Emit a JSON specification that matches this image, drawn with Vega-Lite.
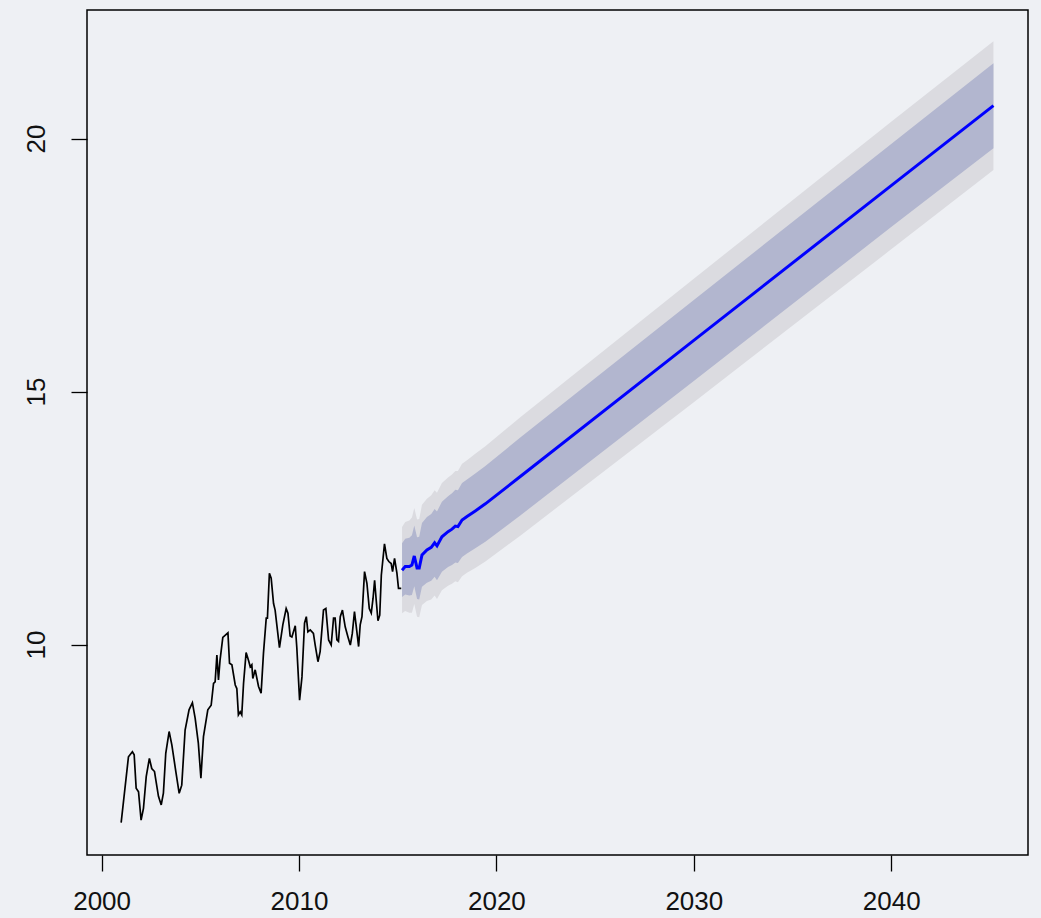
{
  "$schema": "https://vega.github.io/schema/vega-lite/v6.json",
  "autosize": {"type": "none"},
  "width": 941,
  "height": 845,
  "padding": {"left": 87, "top": 10, "right": 13, "bottom": 63},
  "background": "#eef0f4",
  "config": {
    "view": {"stroke": "#000000", "strokeWidth": 1.5, "fill": "#eef0f4"},
    "axis": {
      "domain": false,
      "grid": false,
      "ticks": true,
      "tickColor": "#000000",
      "tickWidth": 1.3,
      "tickSize": 16,
      "labelFont": "Liberation Sans",
      "labelFontSize": 26,
      "labelColor": "#111111",
      "title": null
    }
  },
  "datasets": {
    "hist": [
      {"t": 2000.99, "v": 6.48}, {"t": 2001.36, "v": 7.78}, {"t": 2001.56, "v": 7.88}, {"t": 2001.65, "v": 7.82},
      {"t": 2001.75, "v": 7.16}, {"t": 2001.87, "v": 7.09}, {"t": 2002.00, "v": 6.53}, {"t": 2002.12, "v": 6.76},
      {"t": 2002.26, "v": 7.39}, {"t": 2002.42, "v": 7.75}, {"t": 2002.54, "v": 7.55}, {"t": 2002.68, "v": 7.49},
      {"t": 2002.76, "v": 7.29}, {"t": 2002.88, "v": 7.00}, {"t": 2003.02, "v": 6.83}, {"t": 2003.13, "v": 7.06},
      {"t": 2003.25, "v": 7.85}, {"t": 2003.42, "v": 8.28}, {"t": 2003.56, "v": 8.01}, {"t": 2003.76, "v": 7.49},
      {"t": 2003.93, "v": 7.06}, {"t": 2004.06, "v": 7.22}, {"t": 2004.23, "v": 8.31}, {"t": 2004.43, "v": 8.71},
      {"t": 2004.60, "v": 8.85}, {"t": 2004.74, "v": 8.54}, {"t": 2004.90, "v": 8.05}, {"t": 2005.03, "v": 7.36},
      {"t": 2005.16, "v": 8.18}, {"t": 2005.38, "v": 8.71}, {"t": 2005.55, "v": 8.80}, {"t": 2005.67, "v": 9.23},
      {"t": 2005.75, "v": 9.26}, {"t": 2005.84, "v": 9.79}, {"t": 2005.92, "v": 9.30}, {"t": 2006.00, "v": 9.69},
      {"t": 2006.14, "v": 10.14}, {"t": 2006.40, "v": 10.23}, {"t": 2006.48, "v": 9.63}, {"t": 2006.60, "v": 9.60},
      {"t": 2006.77, "v": 9.20}, {"t": 2006.85, "v": 9.13}, {"t": 2006.93, "v": 8.61}, {"t": 2007.02, "v": 8.67},
      {"t": 2007.10, "v": 8.61}, {"t": 2007.19, "v": 9.23}, {"t": 2007.32, "v": 9.84}, {"t": 2007.44, "v": 9.69},
      {"t": 2007.53, "v": 9.56}, {"t": 2007.61, "v": 9.60}, {"t": 2007.66, "v": 9.33}, {"t": 2007.78, "v": 9.50},
      {"t": 2007.95, "v": 9.17}, {"t": 2008.08, "v": 9.04}, {"t": 2008.20, "v": 9.83}, {"t": 2008.34, "v": 10.52},
      {"t": 2008.40, "v": 10.52}, {"t": 2008.50, "v": 11.41}, {"t": 2008.59, "v": 11.31}, {"t": 2008.71, "v": 10.81},
      {"t": 2008.79, "v": 10.68}, {"t": 2009.01, "v": 9.94}, {"t": 2009.18, "v": 10.39}, {"t": 2009.35, "v": 10.71},
      {"t": 2009.44, "v": 10.62}, {"t": 2009.55, "v": 10.17}, {"t": 2009.64, "v": 10.15}, {"t": 2009.81, "v": 10.37},
      {"t": 2009.89, "v": 9.93}, {"t": 2010.03, "v": 8.90}, {"t": 2010.15, "v": 9.36}, {"t": 2010.28, "v": 10.42},
      {"t": 2010.37, "v": 10.55}, {"t": 2010.45, "v": 10.25}, {"t": 2010.57, "v": 10.29}, {"t": 2010.73, "v": 10.22},
      {"t": 2010.82, "v": 9.99}, {"t": 2010.96, "v": 9.66}, {"t": 2011.07, "v": 9.86}, {"t": 2011.24, "v": 10.68},
      {"t": 2011.36, "v": 10.71}, {"t": 2011.50, "v": 10.09}, {"t": 2011.63, "v": 9.99}, {"t": 2011.75, "v": 10.52},
      {"t": 2011.83, "v": 10.52}, {"t": 2011.92, "v": 10.09}, {"t": 2012.00, "v": 10.06}, {"t": 2012.09, "v": 10.55},
      {"t": 2012.20, "v": 10.68}, {"t": 2012.34, "v": 10.35}, {"t": 2012.48, "v": 10.15}, {"t": 2012.60, "v": 9.99},
      {"t": 2012.70, "v": 10.22}, {"t": 2012.81, "v": 10.65}, {"t": 2012.92, "v": 10.29}, {"t": 2013.02, "v": 9.96},
      {"t": 2013.10, "v": 10.39}, {"t": 2013.19, "v": 10.55}, {"t": 2013.32, "v": 11.44}, {"t": 2013.44, "v": 11.21},
      {"t": 2013.56, "v": 10.71}, {"t": 2013.66, "v": 10.62}, {"t": 2013.75, "v": 10.91}, {"t": 2013.83, "v": 11.27},
      {"t": 2013.91, "v": 10.88}, {"t": 2014.00, "v": 10.47}, {"t": 2014.09, "v": 10.58}, {"t": 2014.17, "v": 11.37},
      {"t": 2014.33, "v": 11.99}, {"t": 2014.45, "v": 11.70}, {"t": 2014.55, "v": 11.64}, {"t": 2014.67, "v": 11.60},
      {"t": 2014.74, "v": 11.44}, {"t": 2014.84, "v": 11.70}, {"t": 2014.96, "v": 11.41}, {"t": 2015.04, "v": 11.11},
      {"t": 2015.18, "v": 11.11}
    ],
    "fc": [
      {"t": 2015.22, "m": 11.47, "lo80": 10.94, "hi80": 12.00, "lo95": 10.62, "hi95": 12.32},
      {"t": 2015.38, "m": 11.54, "lo80": 10.99, "hi80": 12.09, "lo95": 10.66, "hi95": 12.42},
      {"t": 2015.59, "m": 11.54, "lo80": 10.97, "hi80": 12.11, "lo95": 10.63, "hi95": 12.45},
      {"t": 2015.72, "m": 11.57, "lo80": 10.98, "hi80": 12.16, "lo95": 10.63, "hi95": 12.51},
      {"t": 2015.84, "m": 11.75, "lo80": 11.15, "hi80": 12.35, "lo95": 10.80, "hi95": 12.70},
      {"t": 2015.98, "m": 11.51, "lo80": 10.90, "hi80": 12.12, "lo95": 10.55, "hi95": 12.47},
      {"t": 2016.09, "m": 11.51, "lo80": 10.89, "hi80": 12.13, "lo95": 10.54, "hi95": 12.48},
      {"t": 2016.23, "m": 11.77, "lo80": 11.14, "hi80": 12.40, "lo95": 10.78, "hi95": 12.76},
      {"t": 2016.48, "m": 11.87, "lo80": 11.22, "hi80": 12.52, "lo95": 10.86, "hi95": 12.88},
      {"t": 2016.70, "m": 11.92, "lo80": 11.26, "hi80": 12.58, "lo95": 10.89, "hi95": 12.95},
      {"t": 2016.87, "m": 12.01, "lo80": 11.34, "hi80": 12.68, "lo95": 10.97, "hi95": 13.05},
      {"t": 2016.99, "m": 11.95, "lo80": 11.27, "hi80": 12.63, "lo95": 10.90, "hi95": 13.00},
      {"t": 2017.24, "m": 12.13, "lo80": 11.44, "hi80": 12.82, "lo95": 11.07, "hi95": 13.19},
      {"t": 2017.55, "m": 12.23, "lo80": 11.53, "hi80": 12.93, "lo95": 11.16, "hi95": 13.30},
      {"t": 2017.75, "m": 12.28, "lo80": 11.57, "hi80": 12.99, "lo95": 11.20, "hi95": 13.36},
      {"t": 2017.92, "m": 12.34, "lo80": 11.62, "hi80": 13.06, "lo95": 11.25, "hi95": 13.43},
      {"t": 2018.05, "m": 12.33, "lo80": 11.61, "hi80": 13.05, "lo95": 11.23, "hi95": 13.43},
      {"t": 2018.26, "m": 12.46, "lo80": 11.73, "hi80": 13.19, "lo95": 11.35, "hi95": 13.57},
      {"t": 2018.51, "m": 12.53, "lo80": 11.80, "hi80": 13.26, "lo95": 11.42, "hi95": 13.64},
      {"t": 2018.93, "m": 12.64, "lo80": 11.90, "hi80": 13.38, "lo95": 11.51, "hi95": 13.77},
      {"t": 2019.44, "m": 12.78, "lo80": 12.03, "hi80": 13.53, "lo95": 11.64, "hi95": 13.92},
      {"t": 2021.21, "m": 13.32, "lo80": 12.55, "hi80": 14.09, "lo95": 12.15, "hi95": 14.49},
      {"t": 2030.00, "m": 16.01, "lo80": 15.21, "hi80": 16.81, "lo95": 14.79, "hi95": 17.23},
      {"t": 2040.00, "m": 19.07, "lo80": 18.25, "hi80": 19.89, "lo95": 17.81, "hi95": 20.33},
      {"t": 2045.18, "m": 20.65, "lo80": 19.81, "hi80": 21.49, "lo95": 19.38, "hi95": 21.92}
    ]
  },
  "layer": [
    {
      "data": {"name": "fc"},
      "mark": {"type": "area", "color": "#dbdbe0", "opacity": 1},
      "encoding": {
        "x": {"field": "t", "type": "quantitative", "scale": {"domain": [1999.26, 2046.93], "nice": false, "zero": false},
              "axis": {"values": [2000, 2010, 2020, 2030, 2040], "format": "d", "labelPadding": 17}},
        "y": {"field": "lo95", "type": "quantitative", "scale": {"domain": [5.84, 22.54], "nice": false, "zero": false},
              "axis": {"values": [10, 15, 20], "labelAngle": 270, "labelAlign": "center", "labelBaseline": "bottom", "labelPadding": 22}},
        "y2": {"field": "hi95"}
      }
    },
    {
      "data": {"name": "fc"},
      "mark": {"type": "area", "color": "#b2b6cf", "opacity": 1},
      "encoding": {
        "x": {"field": "t", "type": "quantitative"},
        "y": {"field": "lo80", "type": "quantitative"},
        "y2": {"field": "hi80"}
      }
    },
    {
      "data": {"name": "hist"},
      "mark": {"type": "line", "color": "#000000", "strokeWidth": 1.7},
      "encoding": {
        "x": {"field": "t", "type": "quantitative"},
        "y": {"field": "v", "type": "quantitative"}
      }
    },
    {
      "data": {"name": "fc"},
      "mark": {"type": "line", "color": "#0000ff", "strokeWidth": 3},
      "encoding": {
        "x": {"field": "t", "type": "quantitative"},
        "y": {"field": "m", "type": "quantitative"}
      }
    }
  ]
}
